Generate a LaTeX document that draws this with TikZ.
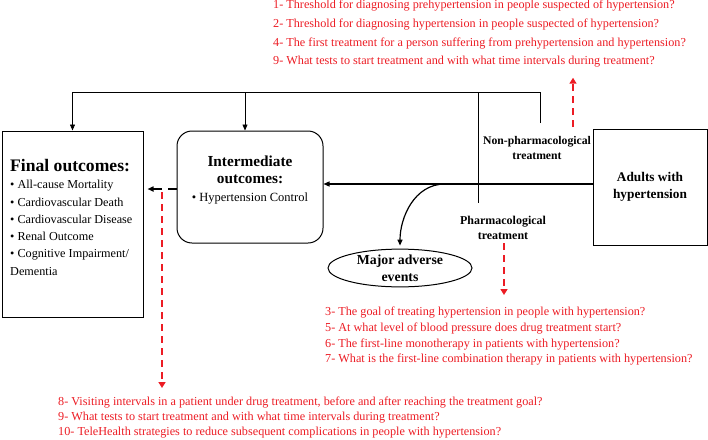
\documentclass[tikz,border=0pt]{standalone}
\usepackage{fontspec}
\setmainfont{Liberation Serif}
\usetikzlibrary{arrows.meta,shapes.geometric}
\definecolor{qred}{RGB}{236,28,36}

\begin{document}
\begin{tikzpicture}[x=1pt, y=-1pt,
    box/.style={draw, line width=1pt, inner sep=0pt},
    link/.style={line width=0.7pt},
    tip/.style={-{Triangle[length=6pt,width=5pt]}},
    label/.style={font=\bfseries\fontsize{11.7}{14.5}\selectfont, align=center, inner sep=0pt},
    qtext/.style={text=qred, align=left, inner sep=0pt, anchor=north west},
    qarrow/.style={draw=qred, line width=1.8pt, dash pattern=on 7pt off 5pt, -{Triangle[length=6pt,width=7pt]}}]
    \useasboundingbox (0,0) rectangle (708,439);

    \node[box, minimum width=141pt, minimum height=186pt] (final) at (72.5,224) {};
    \node[box, rounded corners=15pt, minimum width=146pt, minimum height=112pt] (inter) at (250,187) {};
    \node[box, minimum width=114pt, minimum height=116pt, align=center, font=\bfseries\fontsize{13.3}{17}\selectfont] (adults) at (650,187) {Adults with\\hypertension};
    \node[box, ellipse, minimum width=144pt, minimum height=36pt, align=center, font=\bfseries\fontsize{13.8}{17}\selectfont] (events) at (400,268) {Major adverse\\events};

    \node[anchor=north west, align=left, inner sep=0pt, font=\fontsize{12.2}{17.3}\selectfont] (finaltext) at (10,159) {{\bfseries\fontsize{17.6}{18}\selectfont Final outcomes:}\\
        \textbullet{} All-cause Mortality\\
        \textbullet{} Cardiovascular Death\\
        \textbullet{} Cardiovascular Disease\\
        \textbullet{} Renal Outcome\\
        \textbullet{} Cognitive Impairment/\\
        Dementia};
    \node[align=center, inner sep=0pt, font=\fontsize{12.5}{17.5}\selectfont] (intertext) at (250,180) {{\bfseries\fontsize{15.3}{18}\selectfont Intermediate}\\
        {\bfseries\fontsize{15.3}{18}\selectfont outcomes:}\\
        \textbullet{} Hypertension Control};
    \node[label] (nonpharm) at (537,148) {Non-pharmacological\\treatment};
    \node[label, font=\bfseries\fontsize{12}{15}\selectfont] (pharm) at (503,228) {Pharmacological\\treatment};

    \node[qtext, font=\fontsize{12.2}{18.7}\selectfont] (q1) at (273,0) {1- Threshold for diagnosing prehypertension in people suspected of hypertension?\\
        2- Threshold for diagnosing hypertension in people suspected of hypertension?\\
        4- The first treatment for a person suffering from prehypertension and hypertension?\\
        9- What tests to start treatment and with what time intervals during treatment?};
    \node[qtext, font=\fontsize{12.2}{15.7}\selectfont] (q2) at (325,307) {3- The goal of treating hypertension in people with hypertension?\\
        5- At what level of blood pressure does drug treatment start?\\
        6- The first-line monotherapy in patients with hypertension?\\
        7- What is the first-line combination therapy in patients with hypertension?};
    \node[qtext, font=\fontsize{12.2}{15}\selectfont] (q3) at (58,397) {8- Visiting intervals in a patient under drug treatment, before and after reaching the treatment goal?\\
        9- What tests to start treatment and with what time intervals during treatment?\\
        10- TeleHealth strategies to reduce subsequent complications in people with hypertension?};

    \coordinate (bus) at (540,92);
    \coordinate (npend) at (540,123);
    \coordinate (phend) at (478,203);
    \coordinate (split) at (445,184);
    \coordinate (dashy) at (162,189);
    \coordinate (upq) at (573,127);
    \coordinate (downq) at (504,243);

    \draw[link, tip] (npend) -- (bus) -| (final.north);
    \draw[link, tip] ([xshift=-5pt]inter.north |- bus) -- ([xshift=-5pt]inter.north);
    \draw[link] (bus -| phend) -- (phend);
    \draw[line width=1.2pt, tip] (adults.west |- split) -- (inter.east |- split);
    \draw[line width=1.2pt, tip, shorten >=3pt] (split) to[out=180, in=90] (events.north);
    \draw[line width=1.6pt, tip, dash pattern=on 9pt off 6pt, shorten >=4pt] (inter.west |- dashy) -- (final.east |- dashy);

    \draw[qarrow, shorten >=9pt] ([yshift=-3pt]dashy) -- (dashy |- q3.north);
    \draw[qarrow, shorten >=10pt] (upq) -- (upq |- q1.south);
    \draw[qarrow, shorten >=12pt] (downq) -- (downq |- q2.north);
\end{tikzpicture}
\end{document}
